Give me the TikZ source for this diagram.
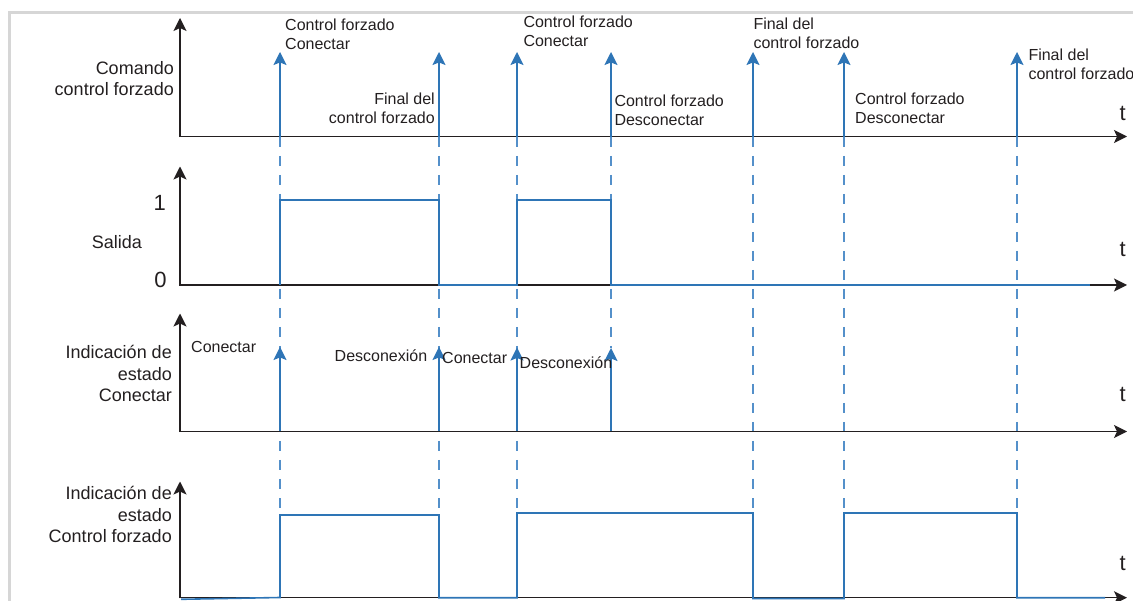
\documentclass[tikz,border=0pt]{standalone}
\usepackage{fontspec}
\setmainfont{Liberation Sans}
\usetikzlibrary{arrows.meta}
\definecolor{sigblue}{RGB}{46,117,182}
\definecolor{dashblue}{RGB}{84,144,202}
\definecolor{axisblack}{RGB}{35,31,32}
\definecolor{framegray}{RGB}{214,214,214}
\tikzset{
  axis/.style={draw=axisblack, line width=1.5pt, -{Stealth[length=13pt,width=13pt,inset=3pt]}},
  evarrow/.style={draw=sigblue, line width=1.5pt, -{Stealth[length=13pt,width=13pt,inset=2.5pt]}},
  signal/.style={draw=sigblue, line width=1.6pt},
  guide/.style={draw=dashblue, line width=1.2pt, dash pattern=on 10pt off 9pt},
  small/.style={font=\fontsize{16}{19}\selectfont, inner sep=0pt, text=axisblack},
  big/.style={font=\fontsize{18}{21.5}\selectfont, inner sep=0pt, text=axisblack},
  tlab/.style={font=\fontsize{22}{26}\selectfont, inner sep=0pt, anchor=base, text=axisblack},
  frame/.style={draw=framegray, line width=3pt},
}
\begin{document}
\begin{tikzpicture}[x=1pt,y=-1pt]
\useasboundingbox (0,0) rectangle (1133,601);
\draw[frame] (9,601) -- (9,12.5) -- (1133,12.5);

% axis coordinates
\coordinate (o1) at (180,136.5); \coordinate (y1) at (180,18);    \coordinate (x1) at (1127,136.5);
\coordinate (o2) at (180,285);   \coordinate (y2) at (180,166.5); \coordinate (x2) at (1127,285);
\coordinate (o3) at (180,431.5); \coordinate (y3) at (180,313.5); \coordinate (x3) at (1127,431.5);
\coordinate (o4) at (180,597.7); \coordinate (y4) at (180,481.5); \coordinate (x4) at (1127,597.7);

% dashed guide lines
\draw[guide] (280,137) -- (280,515);
\draw[guide] (439,137) -- (439,515);
\draw[guide] (517,137) -- (517,513);
\draw[guide] (611,137) -- (611,348);
\draw[guide] (753,137) -- (753,513);
\draw[guide] (844,137) -- (844,513);
\draw[guide] (1017,137) -- (1017,513);

% axes
\foreach \i in {1,2,3,4}{
  \draw[axis] ([yshift=-0.75pt]o\i) -- (y\i);
  \draw[axis] ([xshift=-0.75pt]o\i) -- (x\i);
}

% panel 1: command arrows
\foreach \x in {280,439,517,611,753,844,1017}{
  \draw[evarrow] (\x,137) -- (\x,52);
}

% panel 2: output
\draw[signal] (280,285) -- (280,200) -- (439,200) -- (439,285) -- (517,285)
  -- (517,200) -- (611,200) -- (611,285) -- (1090,285);

% panel 3: state arrows
\draw[evarrow] (280,431.5) -- (280,347);
\draw[evarrow] (439,431.5) -- (439,347);
\draw[evarrow] (517,431.5) -- (517,347.5);
\draw[evarrow] (611,431.5) -- (611,348);

% panel 4: forced-control state
\draw[signal] (181,599.3) -- (280,597.5) -- (280,515) -- (439,515) -- (439,597.7)
  -- (517,597.7) -- (517,513) -- (753,513) -- (753,598.5) -- (844,598.5)
  -- (844,513) -- (1017,513) -- (1017,597.7) -- (1105,597.7);

% labels panel 1
\node[big, align=right, anchor=north east] (lcmd) at (174,60.9) {Comando\\control forzado};
\node[small, align=left, anchor=north west] (a1) at (285,18.3) {Control forzado\\Conectar};
\node[small, align=right, anchor=north east] (a2) at (435,92.3) {Final del\\control forzado};
\node[small, align=left, anchor=north west] (a3) at (523.3,16) {Control forzado\\Conectar};
\node[small, align=left, anchor=north west] (a4) at (614.3,94.3) {Control forzado\\Desconectar};
\node[small, align=left, anchor=north west] (a5) at (753.3,17.6) {Final del\\control forzado};
\node[small, align=left, anchor=north west] (a6) at (855,92.3) {Control forzado\\Desconectar};
\node[small, align=left, anchor=north west] (a7) at (1028.3,48.3) {Final del\\control forzado};

% labels panel 2
\node[tlab, anchor=base east] (one) at (166,210.7) {1};
\node[tlab, anchor=base east] (zero) at (166.7,287.3) {0};
\node[big, anchor=base west] (sal) at (91.7,249) {Salida};

% labels panel 3
\node[big, align=right, anchor=north east] (lst) at (172,345.4) {Indicación de\\estado\\Conectar};
\node[small, anchor=base west] (b1) at (191,352.3) {Conectar};
\node[small, anchor=base east] (b2) at (427.4,361.7) {Desconexión};
\node[small, anchor=base west] (b3) at (442,363.3) {Conectar};
\node[small, anchor=base west] (b4) at (519.5,369) {Desconexión};

% labels panel 4
\node[big, align=right, anchor=north east] (lfc) at (172,486.2) {Indicación de\\estado\\Control forzado};

% t labels
\node[tlab] (t1) at (1122.7,120.7) {t};
\node[tlab] (t2) at (1122.7,257) {t};
\node[tlab] (t3) at (1122.7,401.7) {t};
\node[tlab] (t4) at (1122.7,570) {t};
\end{tikzpicture}
\end{document}
